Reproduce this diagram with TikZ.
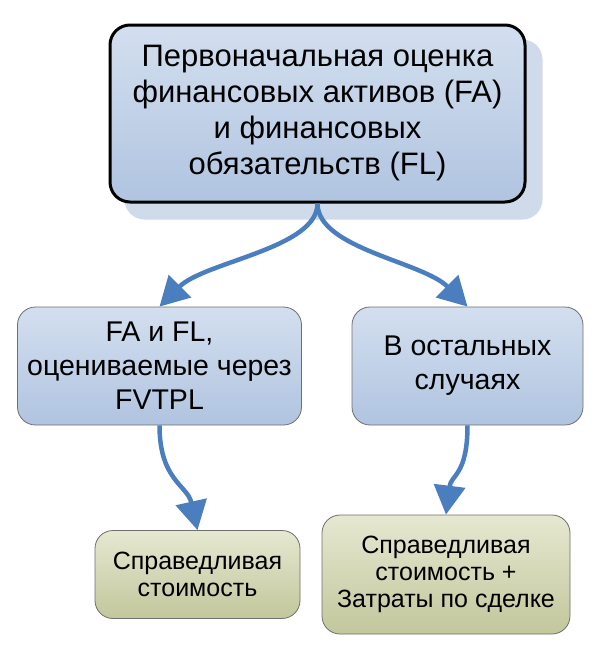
\documentclass[tikz,border=0pt]{standalone}
\usepackage{fontspec}
\setmainfont{Liberation Sans}
\usetikzlibrary{arrows.meta}
\pgfdeclarelayer{background}
\pgfsetlayers{background,main}
\definecolor{arrowc}{HTML}{4A7EBF}
\definecolor{bluetop}{HTML}{D3DFEF}
\definecolor{bluebot}{HTML}{B0C4E0}
\definecolor{greentop}{HTML}{E6E8D0}
\definecolor{greenbot}{HTML}{C2C79C}
\definecolor{shadowc}{HTML}{CFDAEA}
\definecolor{edgec}{HTML}{6E6E6E}
\tikzset{
  mainbox/.style={draw=black, line width=3pt, rounded corners=20pt, top color=bluetop, bottom color=bluebot, align=center, font=\fontsize{31}{36}\selectfont, inner sep=0pt},
  bluebox/.style={draw=edgec, line width=0.8pt, rounded corners=18pt, top color=bluetop, bottom color=bluebot, align=center, font=\fontsize{28.5}{34}\selectfont, inner sep=0pt},
  greenbox/.style={draw=edgec, line width=0.8pt, rounded corners=18pt, top color=greentop, bottom color=greenbot, align=center, font=\fontsize{25}{27}\selectfont, inner sep=0pt},
  conn/.style={draw=arrowc, line width=4.5pt, -{Triangle[width=31pt,length=29pt]}},
}
\begin{document}
\begin{tikzpicture}[x=1pt,y=-1pt]
\useasboundingbox (0,0) rectangle (600,657);
\node[mainbox, minimum width=415pt, minimum height=177pt] (top) at (317.5,113.5)
  {Первоначальная оценка\\финансовых активов (FA)\\и финансовых\\обязательств (FL)};
\begin{pgfonlayer}{background}
\fill[shadowc, rounded corners=20pt] ([shift={(16pt,-16pt)}]top.north west) rectangle ([shift={(16pt,-16pt)}]top.south east);
\end{pgfonlayer}
\node[bluebox, minimum width=284pt, minimum height=118pt] (ml) at (159.5,366)
  {FA и FL,\\оцениваемые через\\FVTPL};
\node[bluebox, minimum width=231pt, minimum height=118pt] (mr) at (467.5,366)
  {В остальных\\случаях};
\node[greenbox, minimum width=205pt, minimum height=88pt] (bl) at (197.5,574.5)
  {Справедливая\\стоимость};
\node[greenbox, minimum width=248pt, minimum height=119pt] (br) at (446,574.5)
  {Справедливая\\стоимость +\\Затраты по сделке};
\draw[conn] (top.south) .. controls +(0,45) and +(45,-45) .. (ml.north);
\draw[conn] (top.south) .. controls +(0,45) and +(-45,-45) .. (mr.north);
\draw[conn] (ml.south) .. controls +(0,55) and +(-10,-45) .. (bl.north);
\draw[conn] (mr.south) .. controls +(0,50) and +(5,-40) .. (br.north);
\end{tikzpicture}
\end{document}
